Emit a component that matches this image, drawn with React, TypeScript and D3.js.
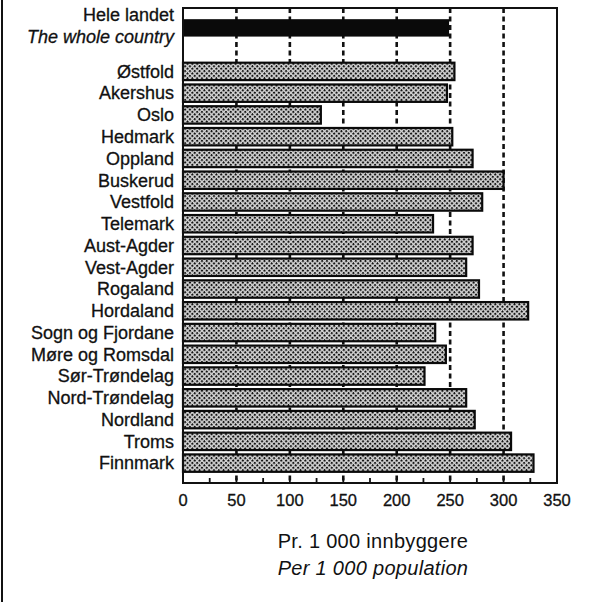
import React from "react";
import * as d3 from "d3";

const totalLabelNo = "Hele landet";
const totalLabelEn = "The whole country";
const totalValue = 249;

const counties = [
  "Østfold", "Akershus", "Oslo", "Hedmark", "Oppland", "Buskerud", "Vestfold",
  "Telemark", "Aust-Agder", "Vest-Agder", "Rogaland", "Hordaland",
  "Sogn og Fjordane", "Møre og Romsdal", "Sør-Trøndelag", "Nord-Trøndelag",
  "Nordland", "Troms", "Finnmark",
];
const countyValues = [
  254, 247, 129, 252, 271, 300, 280, 234, 271, 265, 277, 323, 236, 246, 226,
  265, 273, 307, 328,
];
const xTicks = [0, 50, 100, 150, 200, 250, 300, 350];
const gridTicks = [50, 100, 150, 200, 250, 300];
const minorTicks = d3.range(25, 350, 25);
const axisTitleNo = "Pr. 1 000 innbyggere";
const axisTitleEn = "Per 1 000 population";

const W = 605;
const H = 602;
const left = 183;
const right = 557;
const top = 8;
const bottom = 483;
const FONT = "'Liberation Sans', Arial, Helvetica, sans-serif";

export default function App() {
  const x = d3.scaleLinear().domain([0, 350]).range([left, right]);
  const rows = ["__total__", "__blank__", ...counties];
  const y = d3.scaleBand().domain(rows).range([17, 474]).paddingInner(0.2).paddingOuter(0.1);
  const bw = y.bandwidth();
  const cy = (k: string) => (y(k) as number) + bw / 2;

  return (
    <svg width={W} height={H} style={{ position: "absolute", left: 0, top: 0, background: "#fff" }}>
      <defs>
        <pattern id="hatch" width={3.4} height={3.4} patternUnits="userSpaceOnUse" patternTransform="rotate(45)">
          <rect width={3.4} height={3.4} fill="#d4d4d4" />
          <rect width={2} height={2} fill="#151515" />
        </pattern>
      </defs>
      <rect width={W} height={H} fill="#fff" />
      {/* left frame line */}
      <line x1={2} x2={2} y1={0} y2={H} stroke="#111" strokeWidth={2} />

      {/* dashed grid */}
      {gridTicks.map((t) => (
        <line key={"g" + t} x1={x(t)} x2={x(t)} y1={top} y2={bottom} stroke="#111" strokeWidth={2.6} strokeDasharray="5 3.5" />
      ))}

      {/* total bar */}
      <rect x={x(0)} y={y("__total__") as number} width={x(totalValue) - x(0)} height={bw} fill="#0a0a0a" />

      {/* county bars */}
      {counties.map((c, i) => (
        <rect key={c} x={x(0)} y={y(c) as number} width={x(countyValues[i]) - x(0)} height={bw}
          fill="url(#hatch)" stroke="#0a0a0a" strokeWidth={2.2} />
      ))}

      {/* box */}
      <rect x={left} y={top} width={right - left} height={bottom - top} fill="none" stroke="#111" strokeWidth={2} />

      {/* minor ticks */}
      {minorTicks.map((t) => (
        <line key={"m" + t} x1={x(t)} x2={x(t)} y1={bottom} y2={bottom - 5} stroke="#111" strokeWidth={1.8} />
      ))}

      {/* tick labels */}
      {xTicks.map((t) => (
        <text key={"t" + t} x={x(t)} y={506} textAnchor="middle" fontFamily={FONT} fontSize={16.5}
          fill="#111" stroke="#111" strokeWidth={0.3}>{t}</text>
      ))}

      {/* category labels */}
      <text x={174} y={21} textAnchor="end" fontFamily={FONT} fontSize={18} fill="#111" stroke="#111" strokeWidth={0.3}>{totalLabelNo}</text>
      <text x={174} y={43} textAnchor="end" fontFamily={FONT} fontSize={18} fontStyle="italic" fill="#111" stroke="#111" strokeWidth={0.3}>{totalLabelEn}</text>
      {counties.map((c) => (
        <text key={"l" + c} x={174} y={cy(c)} dy="0.35em" textAnchor="end" fontFamily={FONT} fontSize={18}
          fill="#111" stroke="#111" strokeWidth={0.3}>{c}</text>
      ))}

      {/* axis title */}
      <text x={373} y={548} textAnchor="middle" fontFamily={FONT} fontSize={20} letterSpacing={0.3} fill="#111">{axisTitleNo}</text>
      <text x={373} y={575} textAnchor="middle" fontFamily={FONT} fontSize={20} letterSpacing={0.3} fontStyle="italic" fill="#111">{axisTitleEn}</text>
    </svg>
  );
}
